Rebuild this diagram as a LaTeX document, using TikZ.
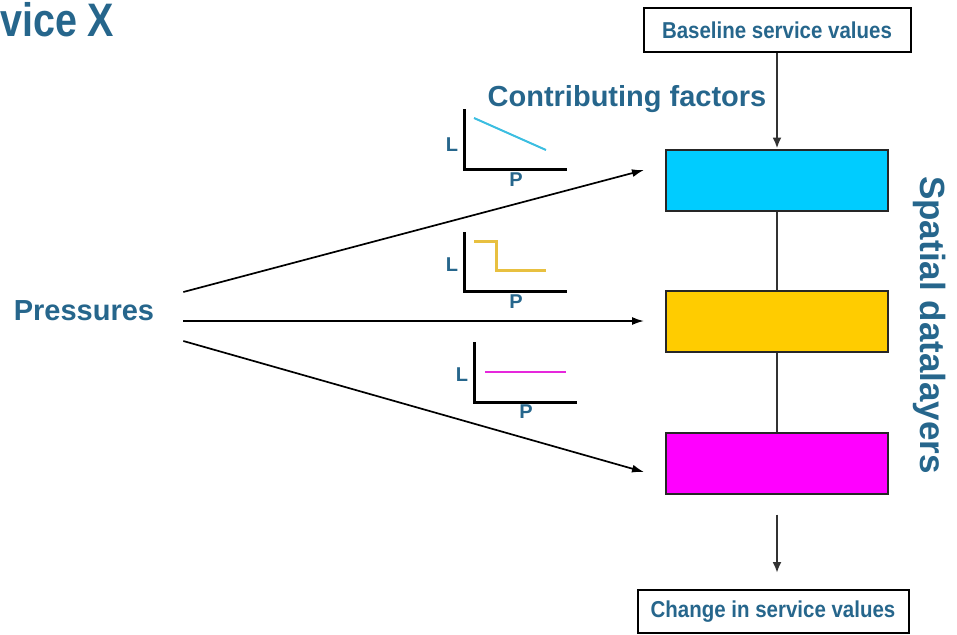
\documentclass[tikz,border=0pt]{standalone}
\usepackage{fontspec}
\setmainfont{Liberation Sans}
\newfontfamily\narrowfont{Liberation Sans}[FakeStretch=0.89]
\newfontfamily\titlefont{Liberation Sans}[FakeStretch=0.84]
\usetikzlibrary{arrows.meta}

\definecolor{textblue}{RGB}{38,102,140}
\definecolor{layercyan}{RGB}{0,204,255}
\definecolor{layergold}{RGB}{255,204,0}
\definecolor{layermagenta}{RGB}{255,0,255}
\definecolor{curvecyan}{RGB}{60,190,225}
\definecolor{curvegold}{RGB}{232,192,64}
\definecolor{curvemagenta}{RGB}{230,40,220}

\begin{document}
\begin{tikzpicture}[
        x=1pt, y=-1pt, % pixel coordinates, y downwards
        heading/.style = {text=textblue, inner sep=0pt, font=\bfseries\fontsize{29}{29}\selectfont},
        valbox/.style = {draw, line width=2pt, fill=white, minimum height=44pt, inner sep=0pt,
                text=textblue, font=\narrowfont\bfseries\fontsize{23}{23}\selectfont},
        layer/.style = {draw, line width=2pt, draw=black!85, minimum width=222pt, minimum height=61pt, inner sep=0pt},
        link/.style = {draw, line width=1.7pt, -{Latex[length=12pt, width=8pt]}}, % arrows from the pressures
        stack/.style = {draw=black!80, line width=2.8pt}, % vertical connectors
        axis/.style = {draw, line width=3pt},
        axislbl/.style = {text=textblue, inner sep=0pt, font=\bfseries\fontsize{20}{20}\selectfont},
    ]
    \useasboundingbox (0,0) rectangle (957,634);

    % title, cut at the left edge
    \node[anchor=base west, inner sep=0pt, text=textblue, font=\titlefont\bfseries\fontsize{47}{47}\selectfont] (title) at (0,37) {vice X};

    % service values
    \node[valbox, minimum width=267pt] (base) at (777,30) {Baseline service values};
    \node[valbox, minimum width=271pt, minimum height=43pt] (change) at (773,611.5) {Change in service values};

    % spatial datalayers
    \node[layer, fill=layercyan] (cyan) at (777,180) {};
    \node[layer, fill=layergold] (gold) at (777,321) {};
    \node[layer, fill=layermagenta] (magenta) at (777,463) {};
    \node[heading, rotate=-90, font=\bfseries\fontsize{35}{35}\selectfont] (spatial) at (930,325) {Spatial datalayers};

    \node[heading] (factors) at (627,99) {Contributing factors};
    \node[heading, inner xsep=29pt] (press) at (84,311) {Pressures};

    % connectors
    \draw[stack, -{Latex[length=11pt, width=9pt]}] (base.south) -- (cyan.north);
    \draw[stack] (cyan) -- (gold);
    \draw[stack] (gold) -- (magenta);
    \draw[stack, -{Latex[length=11pt, width=9pt]}, shorten <=20pt, shorten >=16pt] (magenta.south) -- (magenta.south |- change.north);

    \draw[link] ([yshift=19pt]press.east) -- ([xshift=-21pt, yshift=10pt]cyan.west);
    \draw[link] ([yshift=-10pt]press.east) -- ([xshift=-21pt, yshift=0pt]gold.west);
    \draw[link] ([yshift=-30pt]press.east) -- ([xshift=-21pt, yshift=-9pt]magenta.west);

    % contributing factor curves
    \draw[axis] (464,109) -- (464,169) -- (567,169);
    \draw[curvecyan, line width=2pt] (474,118) -- (546,150);
    \node[axislbl] (l1) at (452,145) {L};
    \node[axislbl] (p1) at (516,180) {P};

    \draw[axis] (464,232) -- (464,291) -- (567,291);
    \draw[curvegold, line width=3pt] (474,241) -- (496,241) -- (496,270) -- (546,270);
    \node[axislbl] (l2) at (452,265) {L};
    \node[axislbl] (p2) at (516,302) {P};

    \draw[axis] (474,342) -- (474,402) -- (577,402);
    \draw[curvemagenta, line width=2pt] (485,372) -- (566,372);
    \node[axislbl] (l3) at (462,375) {L};
    \node[axislbl] (p3) at (526,412) {P};
\end{tikzpicture}
\end{document}
